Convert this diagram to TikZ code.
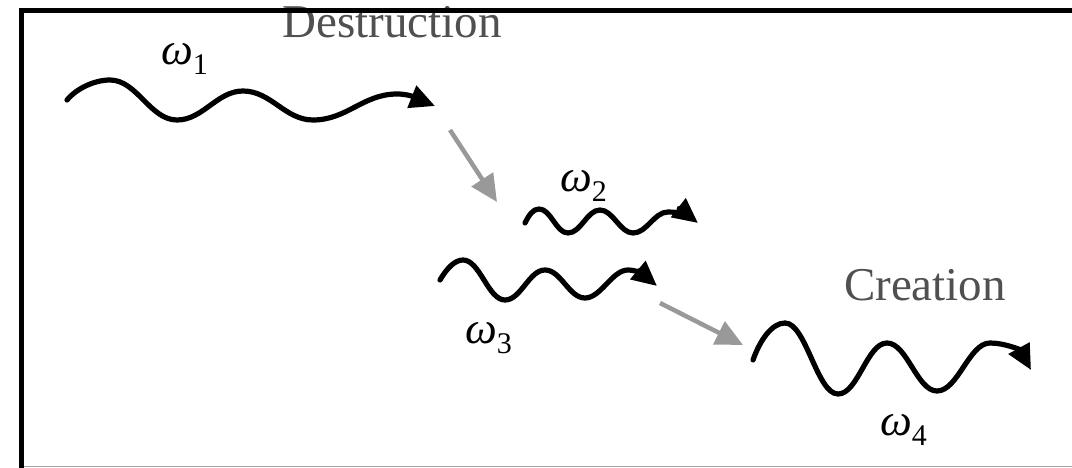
\documentclass[tikz,border=0pt]{standalone}
\usepackage{fontspec}
\setmainfont{Liberation Serif}
\usetikzlibrary{arrows.meta}
\definecolor{labelgray}{RGB}{80,80,80}
\definecolor{arrowgray}{RGB}{153,153,153}
\definecolor{edgegray}{RGB}{165,165,165}
\newcommand{\omlabel}[1]{{\fontsize{45}{45}\selectfont\itshape ω}\raisebox{-10pt}{\fontsize{30}{30}\selectfont #1}}
\begin{document}
\begin{tikzpicture}[x=1pt,y=-1pt,
  wave/.style={line width=5.2pt, black, line cap=round,
    -{Triangle[length=25pt,width=23pt]}},
  transit/.style={line width=4.5pt, arrowgray,
    -{Triangle[length=27pt,width=25pt]}},
  bigword/.style={inner sep=0pt, anchor=base, text=labelgray,
    font=\fontsize{47}{47}\selectfont},
  omega/.style={inner sep=0pt, anchor=base west}]
\useasboundingbox (0,0) rectangle (1072,468);
\fill[white] (0,0) rectangle (1072,468);

% words
\node[bigword] (destr) at (392,38) {Destruction};
\node[bigword] (creat) at (925,300) {Creation};

% frequency labels
\node[omega] (w1) at (161,65) {\omlabel{1}};
\node[omega] (w2) at (560,192) {\omlabel{2}};
\node[omega] (w3) at (465,343) {\omlabel{3}};
\node[omega] (w4) at (880,435) {\omlabel{4}};

% wave 1
\coordinate (s1) at (67,100);
\coordinate (e1) at (435,106);
\draw[wave] (s1) .. controls (77,88) and (95,80) .. (110,80)
  .. controls (137,80) and (150,120) .. (177,120)
  .. controls (203,120) and (217,91) .. (243,91)
  .. controls (271,91) and (285,120) .. (313,120)
  .. controls (347,120) and (363,94) .. (397,94)
  .. controls (412,94) and (420,100) .. (e1);

% wave 2
\coordinate (s2) at (525,223);
\coordinate (e2) at (698,223);
\draw[wave] (s2) .. controls (529,215) and (533,209) .. (539,209)
  .. controls (551,209) and (556,233) .. (568,233)
  .. controls (581,233) and (587,210) .. (600,210)
  .. controls (613,210) and (620,233) .. (633,233)
  .. controls (647,233) and (654,212) .. (668,212)
  .. controls (680,212) and (689,216) .. (e2);

% wave 3
\coordinate (s3) at (440,280);
\coordinate (e3) at (657,286);
\draw[wave] (s3) .. controls (447,268) and (455,260) .. (463,260)
  .. controls (480,260) and (488,300) .. (505,300)
  .. controls (521,300) and (529,270) .. (545,270)
  .. controls (561,270) and (569,298) .. (585,298)
  .. controls (601,298) and (612,270) .. (628,270)
  .. controls (638,270) and (645,276) .. (e3);

% wave 4
\coordinate (s4) at (753,360);
\coordinate (e4) at (1031,370);
\draw[wave] (s4) .. controls (760,340) and (772,323) .. (785,323)
  .. controls (806,323) and (817,394) .. (838,394)
  .. controls (858,394) and (867,343) .. (887,343)
  .. controls (907,343) and (917,391) .. (937,391)
  .. controls (958,391) and (969,343) .. (990,343)
  .. controls (1005,343) and (1020,350) .. (e4);

% transitions
\coordinate (a1s) at (450,130);
\coordinate (a1e) at (497,202);
\coordinate (a2s) at (660,303);
\coordinate (a2e) at (743,345);
\draw[transit] (a1s) -- (a1e);
\draw[transit] (a2s) -- (a2e);

% frame
\draw[edgegray, line width=1pt] (24,466.5) -- (1072,466.5);
\draw[black, line width=5pt] (21.5,468) -- (21.5,10.3) -- (1072,10.3);
\end{tikzpicture}
\end{document}
